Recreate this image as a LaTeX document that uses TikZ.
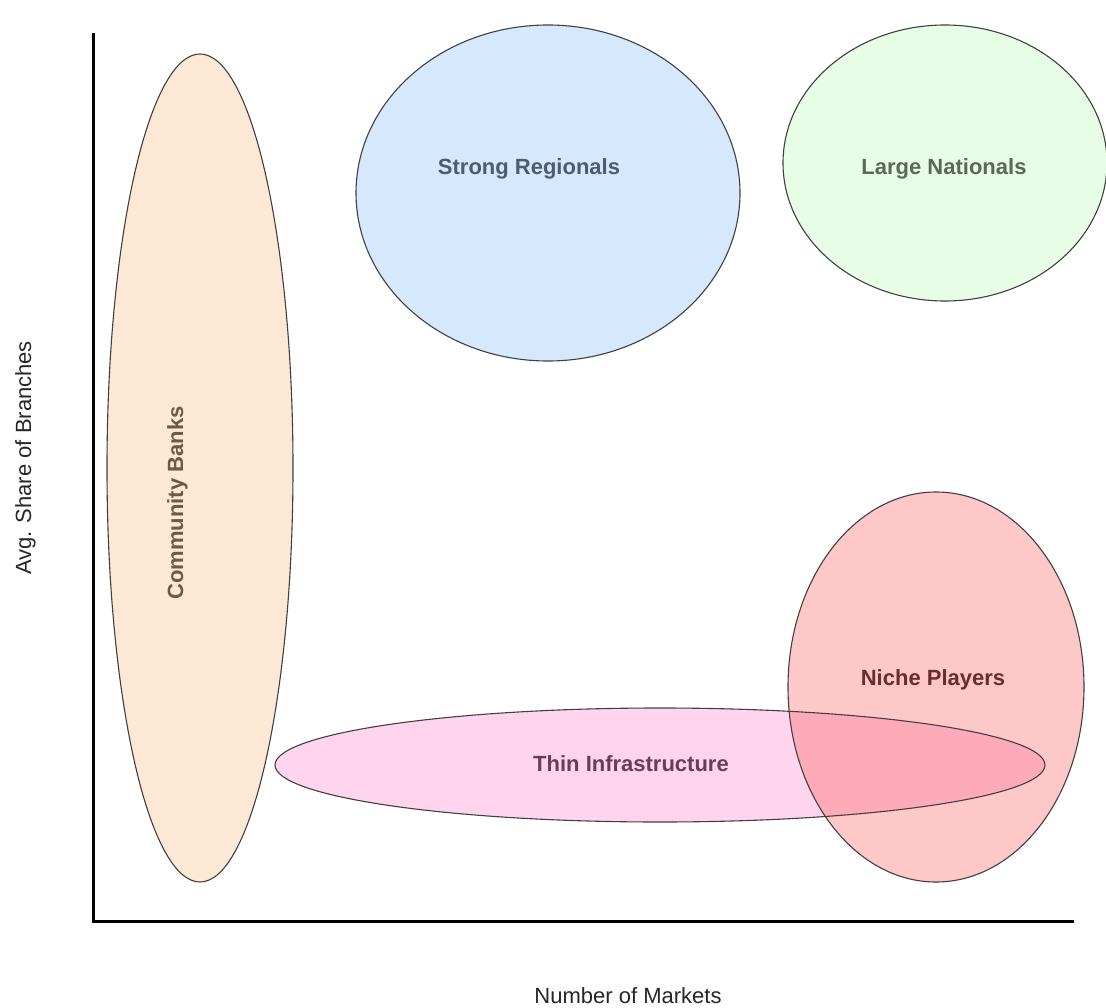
\documentclass[tikz,border=0pt]{standalone}
\usepackage{fontspec}
\setmainfont{Liberation Sans}
\definecolor{cbfill}{HTML}{FDE8D5}
\definecolor{cbtext}{HTML}{6E5A44}
\definecolor{srfill}{HTML}{D6E8FC}
\definecolor{srtext}{HTML}{4C5C76}
\definecolor{lnfill}{HTML}{E8FDE6}
\definecolor{lntext}{HTML}{5A6A58}
\definecolor{npfill}{HTML}{FFC8C8}
\definecolor{nptext}{HTML}{6A2C30}
\definecolor{tifill}{HTML}{FFD4EC}
\definecolor{titext}{HTML}{6A3C58}
\definecolor{ovfill}{HTML}{FFAAB8}
\definecolor{edge}{HTML}{404040}
\begin{document}
\begin{tikzpicture}[x=1pt,y=-1pt,
  blob/.style={draw=edge,line width=1.1pt},
  lbl/.style={font=\fontsize{22}{26}\selectfont\bfseries,inner sep=0pt,anchor=base},
  axlbl/.style={font=\fontsize{22}{26}\selectfont,text=black!85,inner sep=0pt,anchor=base},
  axis/.style={line width=3pt,black}]
\useasboundingbox (0,0) rectangle (1106,1008);
\fill[white] (0,0) rectangle (1106,1008);
% fills
\fill[cbfill] (200,468) ellipse [x radius=93,y radius=414];
\fill[srfill] (548,193) ellipse [x radius=192,y radius=168];
\fill[lnfill] (945,163) ellipse [x radius=162,y radius=138];
\fill[tifill] (660,765) ellipse [x radius=385,y radius=57];
\fill[npfill] (936,687) ellipse [x radius=148,y radius=195];
\begin{scope}
  \clip (660,765) ellipse [x radius=385,y radius=57];
  \fill[ovfill] (936,687) ellipse [x radius=148,y radius=195];
\end{scope}
% outlines
\draw[blob] (200,468) ellipse [x radius=93,y radius=414];
\draw[blob] (548,193) ellipse [x radius=192,y radius=168];
\draw[blob] (945,163) ellipse [x radius=162,y radius=138];
\draw[blob] (660,765) ellipse [x radius=385,y radius=57];
\draw[blob] (936,687) ellipse [x radius=148,y radius=195];
% labels
\node[lbl,text=cbtext,rotate=90] (cb) at (183,503) {Community Banks};
\node[lbl,text=srtext] (sr) at (529,175) {Strong Regionals};
\node[lbl,text=lntext] (ln) at (944,175) {Large Nationals};
\node[lbl,text=nptext] (np) at (933,685) {Niche Players};
\node[lbl,text=titext] (ti) at (631,771) {Thin Infrastructure};
% axes
\coordinate (top) at (93,35);
\coordinate (orig) at (93,921);
\coordinate (right) at (1072,921);
\draw[axis,line cap=rect] (top) -- (orig) -- (right);
\node[axlbl,rotate=90] (ylab) at (31,458) {Avg. Share of Branches};
\node[axlbl] (xlab) at (628,1003) {Number of Markets};
\end{tikzpicture}
\end{document}
